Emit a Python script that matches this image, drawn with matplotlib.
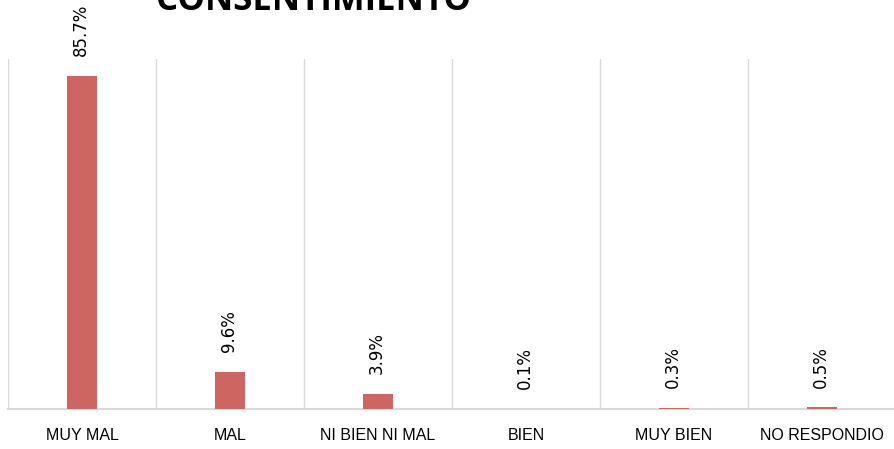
import matplotlib.pyplot as plt
import numpy as np

categorias = ["MUY MAL", "MAL", "NI BIEN NI MAL", "BIEN", "MUY BIEN", "NO RESPONDIO"]
valores = [85.7, 9.6, 3.9, 0.1, 0.3, 0.5]
titulo = "CONSENTIMIENTO"

color_barra = "#CD6660"
color_grid = "#D9D9D9"

fig = plt.figure(figsize=(8.94, 4.49), dpi=100)
ax = fig.add_axes([8 / 894, 40 / 449, 888 / 894, 350 / 449])

x = np.arange(len(categorias))
ax.bar(x, valores, width=0.2, color=color_barra, zorder=3)

for xi, v in zip(x, valores):
    ax.annotate(f"{v:.1f}%", (xi, v), xytext=(-1, 14), textcoords="offset points",
                rotation=90, ha="center", va="bottom", fontsize=12,
                family="DejaVu Sans")

ax.set_xlim(-0.5, len(categorias) - 0.5)
ax.set_ylim(0, 90)

# lineas verticales entre categorias
for b in np.arange(-0.5, len(categorias), 1.0):
    ax.axvline(b, color=color_grid, lw=1, zorder=1)

for s in ["top", "right", "left"]:
    ax.spines[s].set_visible(False)
ax.spines["bottom"].set_color(color_grid)
ax.spines["bottom"].set_linewidth(1.5)

ax.set_yticks([])
ax.set_xticks(x)
ax.set_xticklabels(categorias, fontsize=11.5, family="Liberation Sans")
ax.tick_params(axis="x", length=0, pad=14)

fig.text(313 / 894, 1 - 10 / 449, titulo, ha="center", va="baseline",
         fontsize=25, fontweight="bold", family="Open Sans")

fig.savefig("out.png", dpi=100)
